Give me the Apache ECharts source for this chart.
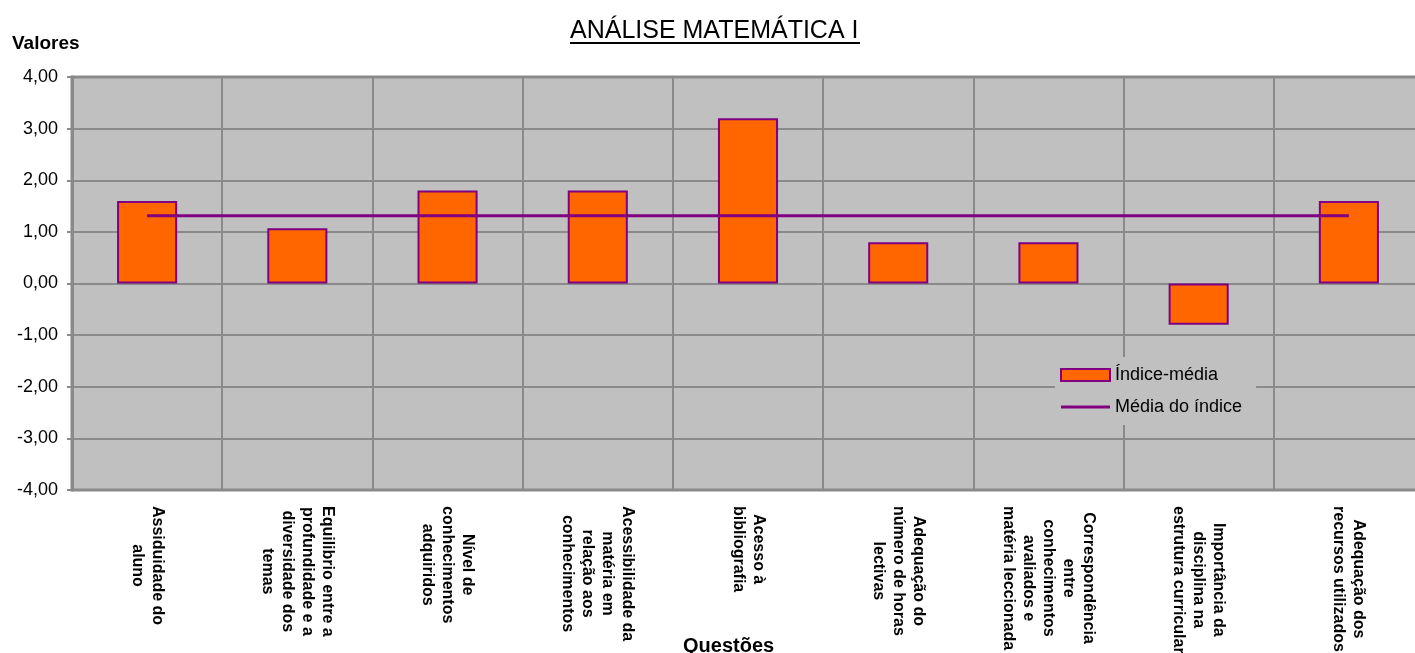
<!DOCTYPE html>
<html>
<head>
<meta charset="utf-8">
<script src="https://cdn.jsdelivr.net/npm/echarts@6/dist/echarts.min.js"></script>
<style>
html,body{margin:0;padding:0;background:#fff;}
#chart{width:1415px;height:653px;}
</style>
</head>
<body>
<div id="chart"></div>
<script>
const categories = [
  ['Assiduidade do', 'aluno'],
  ['Equilibrio entre a', 'profundidade e a', 'diversidade dos', 'temas'],
  ['Nível de', 'conhecimentos', 'adquiridos'],
  ['Acessibilidade da', 'matéria em', 'relação aos', 'conhecimentos'],
  ['Acesso à', 'bibliografia'],
  ['Adequação do', 'número de horas', 'lectivas'],
  ['Correspondência', 'entre', 'conhecimentos', 'avaliados e', 'matéria leccionada'],
  ['Importância da', 'disciplina na', 'estrutura curricular'],
  ['Adequação dos', 'recursos utilizados']
];
const indiceMedia = [1.60, 1.07, 1.80, 1.80, 3.20, 0.80, 0.80, -0.80, 1.60];
const mediaIndice = [1.31, 1.31, 1.31, 1.31, 1.31, 1.31, 1.31, 1.31, 1.31];
const yTicks = { min: -4, max: 4, interval: 1 };
const seriesNames = ['Índice-média', 'Média do índice'];
const titleText = 'ANÁLISE MATEMÁTICA I';

const FONT = "'Liberation Sans', Arial, sans-serif";
const catKeys = categories.map(c => c.join('\n'));

const chart = echarts.init(document.getElementById('chart'));
chart.setOption({
  animation: false,
  backgroundColor: '#ffffff',
  textStyle: { fontFamily: FONT },
  grid: {
    left: 72, top: 77, bottom: 163, right: -9,
    outerBoundsMode: 'none',
    containLabel: false,
    show: true, backgroundColor: '#c0c0c0',
    borderColor: '#8a8a8a', borderWidth: 3
  },
  graphic: [
    { type: 'text', left: 570, top: 19,
      style: { text: titleText, font: "25px " + FONT, fill: '#000' } },
    { type: 'rect', shape: { x: 570, y: 42, width: 290, height: 2 }, style: { fill: '#000' } },
    { type: 'text', left: 12, top: 34,
      style: { text: 'Valores', font: "bold 19px " + FONT, fill: '#000' } },
    { type: 'text', left: 683, top: 636,
      style: { text: 'Questões', font: "bold 20px " + FONT, fill: '#000' } }
  ],
  legend: {
    orient: 'vertical',
    left: 1055, top: 357,
    padding: [9, 14, 9, 5],
    itemGap: 14,
    itemWidth: 49, itemHeight: 12,
    backgroundColor: '#c0c0c0',
    textStyle: { fontSize: 18, color: '#000', fontFamily: FONT },
    data: [
      { name: seriesNames[0], icon: 'rect' },
      { name: seriesNames[1], icon: 'path://M0,0 M0,12 M0,4.5 L49,4.5 L49,7.5 L0,7.5 Z' }
    ]
  },
  xAxis: {
    type: 'category',
    data: catKeys,
    axisLine: { show: false, onZero: false },
    axisTick: { show: false },
    splitLine: { show: true, interval: 0, lineStyle: { color: '#8a8a8a', width: 2 } },
    axisLabel: {
      interval: 0,
      rotate: -90,
      margin: 16,
      formatter: function (v) {
        return v.split('\n').map(s => '{c|' + s + '}').join('\n');
      },
      rich: {
        c: { align: 'center', fontWeight: 'bold', fontSize: 16, lineHeight: 20, color: '#000', fontFamily: FONT }
      }
    }
  },
  yAxis: {
    type: 'value',
    min: yTicks.min, max: yTicks.max, interval: yTicks.interval,
    axisLine: { show: true, lineStyle: { color: '#8a8a8a', width: 3 } },
    axisTick: { show: true, length: 5, lineStyle: { color: '#8a8a8a', width: 2 } },
    splitLine: { show: true, lineStyle: { color: '#8a8a8a', width: 2 } },
    axisLabel: {
      margin: 14, fontSize: 18, color: '#000', fontFamily: FONT,
      formatter: v => v.toFixed(2).replace('.', ',')
    }
  },
  series: [
    {
      name: seriesNames[0],
      type: 'bar',
      data: indiceMedia,
      barWidth: '40%',
      itemStyle: { color: '#ff6600', borderColor: '#800080', borderWidth: 2 },
      z: 2
    },
    {
      name: seriesNames[1],
      type: 'line',
      data: mediaIndice,
      symbol: 'none',
      showSymbol: false,
      lineStyle: { color: '#800080', width: 3 },
      itemStyle: { color: '#800080', borderWidth: 0 },
      z: 3
    }
  ]
});
</script>
</body>
</html>
